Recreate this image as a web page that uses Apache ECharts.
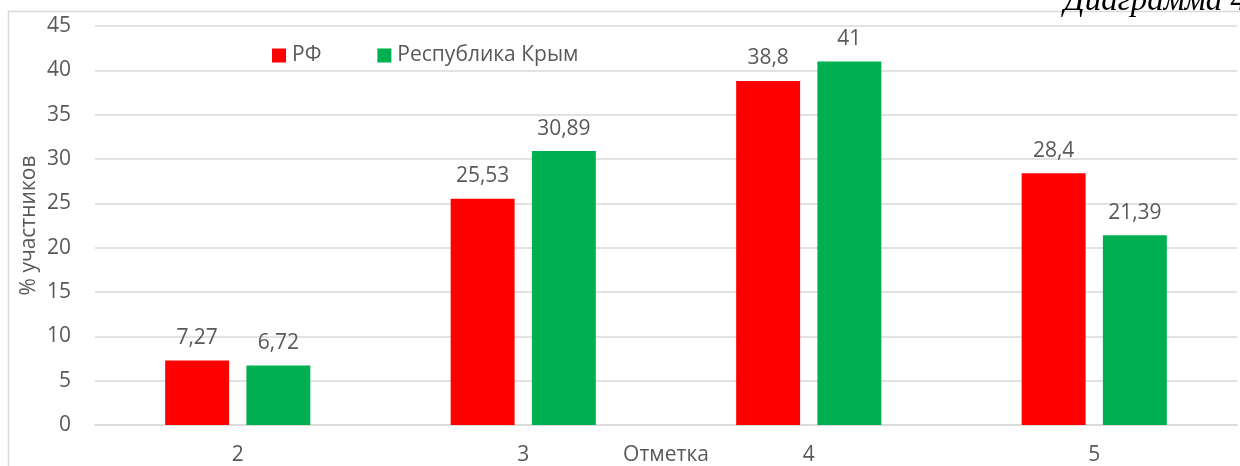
<!DOCTYPE html>
<html><head><meta charset="utf-8">
<script src="https://cdn.jsdelivr.net/npm/echarts@6/dist/echarts.min.js"></script>
<style>html,body{margin:0;padding:0;background:#fff}#c{width:1240px;height:466px}</style>
</head><body><div id="c"></div>
<script>
var categories = ['2', '3', '4', '5'];
var rfValues = [7.27, 25.53, 38.8, 28.4];
var crimeaValues = [6.72, 30.89, 41, 21.39];
var seriesNames = ['РФ', 'Республика Крым'];

var font = '"Open Sans", sans-serif';
var txt = '#595959';
var fs = 21;
function fmt(p){ return String(p.value).replace('.', ','); }

var chart = echarts.init(document.getElementById('c'));
chart.setOption({
  animation: false,
  textStyle: { fontFamily: font },
  graphic: [
    { type: 'rect', shape: { x: 8.5, y: 11.5, width: 1300, height: 600 }, style: { fill: 'none', stroke: '#d9d9d9', lineWidth: 1.5 }, z: -1 },
    { type: 'text', x: 1247, y: -15, style: { text: 'Диаграмма 4', fontFamily: '"Liberation Serif", serif', fontStyle: 'italic', fontSize: 33, fill: '#000', textAlign: 'right', textVerticalAlign: 'top' } }
  ],
  legend: {
    left: 272, top: 45, padding: 0,
    itemWidth: 14, itemHeight: 14, itemGap: 56,
    icon: 'rect',
    textStyle: { color: txt, fontSize: fs, fontFamily: font, padding: [0, 0, 0, 1] },
    data: seriesNames
  },
  grid: { left: 95, right: 3, top: 26, bottom: 41, containLabel: false, outerBoundsMode: 'none' },
  xAxis: {
    type: 'category', data: categories,
    axisLine: { lineStyle: { color: '#d9d9d9', width: 1.5 } },
    axisTick: { show: false },
    axisLabel: { color: txt, fontSize: fs, margin: 20 },
    name: 'Отметка', nameLocation: 'middle', nameGap: 20, nameMoveOverlap: false,
    nameTextStyle: { color: txt, fontSize: fs, verticalAlign: 'top' }
  },
  yAxis: {
    type: 'value', min: 0, max: 45, interval: 5,
    axisLine: { show: false }, axisTick: { show: false },
    axisLabel: { color: txt, fontSize: fs, margin: 24 },
    splitLine: { lineStyle: { color: '#d9d9d9', width: 1.5 } },
    name: '% участников', nameLocation: 'middle', nameGap: 55, nameRotate: 90, nameMoveOverlap: false,
    nameTextStyle: { color: txt, fontSize: fs }
  },
  series: [
    { name: seriesNames[0], type: 'bar', data: rfValues, barWidth: '22.4%', barGap: '27%',
      itemStyle: { color: '#ff0000' },
      label: { show: true, position: 'top', distance: 12, color: txt, fontSize: fs, formatter: fmt } },
    { name: seriesNames[1], type: 'bar', data: crimeaValues, barWidth: '22.4%', barGap: '27%',
      itemStyle: { color: '#00b050' },
      label: { show: true, position: 'top', distance: 12, color: txt, fontSize: fs, formatter: fmt } }
  ]
});
</script></body></html>
